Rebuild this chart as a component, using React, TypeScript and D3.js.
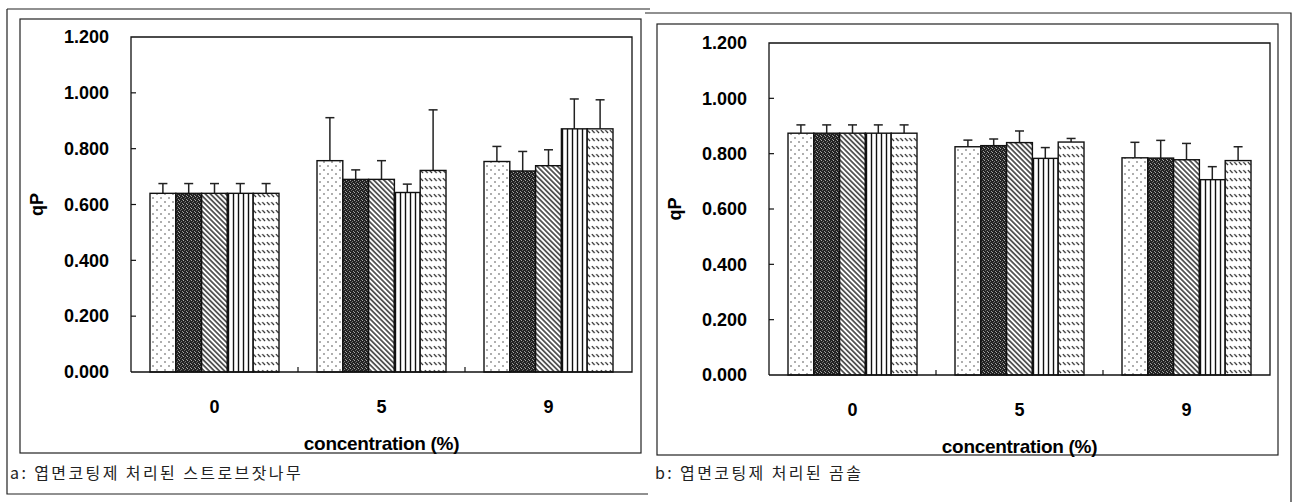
import React, {useEffect, useRef} from 'react';
import * as d3 from 'd3';

// concentration groups and the five treatments shown in each group
const categories = ['0', '5', '9'];
const treatments = ['t1', 't2', 't3', 't4', 't5'];
const yTicks = [0, 0.2, 0.4, 0.6, 0.8, 1.0, 1.2];

// a: strobe pine (스트로브잣나무)
const strobeMeans = [
  [0.64, 0.64, 0.64, 0.64, 0.64],
  [0.757, 0.69, 0.69, 0.643, 0.722],
  [0.754, 0.72, 0.739, 0.871, 0.871],
];
const strobeErrors = [
  [0.035, 0.035, 0.035, 0.035, 0.035],
  [0.154, 0.034, 0.067, 0.03, 0.217],
  [0.054, 0.07, 0.057, 0.107, 0.104],
];

// b: black pine (곰솔)
const blackPineMeans = [
  [0.874, 0.874, 0.874, 0.874, 0.874],
  [0.825, 0.829, 0.84, 0.783, 0.842],
  [0.785, 0.784, 0.778, 0.706, 0.775],
];
const blackPineErrors = [
  [0.03, 0.03, 0.03, 0.03, 0.03],
  [0.024, 0.024, 0.042, 0.039, 0.013],
  [0.056, 0.064, 0.059, 0.047, 0.05],
];

const captionA = 'a: 엽면코팅제 처리된 스트로브잣나무';
const captionB = 'b: 엽면코팅제 처리된 곰솔';

const fills = ['url(#pDots)', 'url(#pDark)', 'url(#pDiag)', 'url(#pVert)', 'url(#pDash)'];
const font = '"Liberation Sans", Arial, sans-serif';

interface PanelConf {
  means: number[][];
  errors: number[][];
  caption: string;
  left: number;
  right: number;
  top: number;
  bottom: number;
  captionX: number;
}

const panels: PanelConf[] = [
  {means: strobeMeans, errors: strobeErrors, caption: captionA, left: 131, right: 632, top: 37, bottom: 372, captionX: 10},
  {means: blackPineMeans, errors: blackPineErrors, caption: captionB, left: 769, right: 1270, top: 43, bottom: 375, captionX: 655},
];

const App = () => {
  const ref = useRef<SVGSVGElement>(null);

  useEffect(() => {
    const svg = d3.select(ref.current);
    svg.selectAll('g.chart').remove();
    const root = svg.append('g').attr('class', 'chart');

    // frames of the scanned figure
    const frame = root.append('g').attr('fill', 'none').attr('stroke', '#222').attr('stroke-width', 1.2);
    frame.append('path').attr('d', 'M7,9 H650 M7,9 V494 H648');
    frame.append('rect').attr('x', 20).attr('y', 19).attr('width', 621).attr('height', 434);
    frame.append('path').attr('d', 'M645,13 H1291 V502');
    frame.append('rect').attr('x', 657).attr('y', 24).attr('width', 621).attr('height', 431);

    panels.forEach(p => {
      const g = root.append('g');
      const y = d3.scaleLinear().domain([0, 1.2]).range([p.bottom, p.top]);
      const x0 = d3.scaleBand().domain(categories).range([p.left, p.right]);
      const x1 = d3
        .scaleBand()
        .domain(treatments)
        .range([19, x0.bandwidth() - 19]);

      // bars
      categories.forEach((c, ci) => {
        const grp = g.append('g').attr('transform', `translate(${x0(c)},0)`);
        treatments.forEach((t, ti) => {
          const v = p.means[ci][ti];
          const e = p.errors[ci][ti];
          const bx = x1(t)!;
          const cx = bx + x1.bandwidth() / 2;
          grp
            .append('line')
            .attr('x1', cx)
            .attr('x2', cx)
            .attr('y1', y(v))
            .attr('y2', y(v + e))
            .attr('stroke', '#222')
            .attr('stroke-width', 1.5);
          grp
            .append('line')
            .attr('x1', cx - 4.5)
            .attr('x2', cx + 4.5)
            .attr('y1', y(v + e))
            .attr('y2', y(v + e))
            .attr('stroke', '#222')
            .attr('stroke-width', 1.5);
          grp
            .append('rect')
            .attr('x', bx)
            .attr('y', y(v))
            .attr('width', x1.bandwidth())
            .attr('height', y(0) - y(v))
            .attr('fill', fills[ti])
            .attr('stroke', '#111')
            .attr('stroke-width', 1.4);
        });
      });

      // plot box
      g.append('path')
        .attr('d', `M${p.left},${p.bottom} V${p.top} H${p.right} V${p.bottom} H${p.left}`)
        .attr('fill', 'none')
        .attr('stroke', '#111')
        .attr('stroke-width', 1.3);

      // y ticks inside
      g.selectAll('line.yt')
        .data(yTicks.slice(1, -1))
        .enter()
        .append('line')
        .attr('x1', p.left)
        .attr('x2', p.left + 5)
        .attr('y1', d => y(d))
        .attr('y2', d => y(d))
        .attr('stroke', '#111')
        .attr('stroke-width', 1.2);
      g.selectAll('text.yl')
        .data(yTicks)
        .enter()
        .append('text')
        .attr('x', p.left - 22)
        .attr('y', d => y(d))
        .attr('dy', '0.35em')
        .attr('text-anchor', 'end')
        .attr('font-family', font)
        .attr('font-weight', 'bold')
        .attr('font-size', 18)
        .text(d => d3.format('.3f')(d));

      // x ticks between groups
      g.selectAll('line.xt')
        .data(categories.slice(1))
        .enter()
        .append('line')
        .attr('x1', d => x0(d)!)
        .attr('x2', d => x0(d)!)
        .attr('y1', p.bottom)
        .attr('y2', p.bottom - 5)
        .attr('stroke', '#111')
        .attr('stroke-width', 1.2);
      g.selectAll('text.xl')
        .data(categories)
        .enter()
        .append('text')
        .attr('x', d => x0(d)! + x0.bandwidth() / 2)
        .attr('y', p.bottom + 35)
        .attr('dy', '0.35em')
        .attr('text-anchor', 'middle')
        .attr('font-family', font)
        .attr('font-weight', 'bold')
        .attr('font-size', 18)
        .text(d => d);

      g.append('text')
        .attr('x', (p.left + p.right) / 2)
        .attr('y', p.bottom + 71)
        .attr('dy', '0.35em')
        .attr('text-anchor', 'middle')
        .attr('font-family', font)
        .attr('font-weight', 'bold')
        .attr('font-size', 19)
        .attr('letter-spacing', -0.3)
        .text('concentration (%)');

      g.append('text')
        .attr('transform', `translate(${p.left - 94},${(p.top + p.bottom) / 2}) rotate(-90)`)
        .attr('dy', '0.35em')
        .attr('text-anchor', 'middle')
        .attr('font-family', font)
        .attr('font-weight', 'bold')
        .attr('font-size', 18)
        .text('qP');

      g.append('text')
        .attr('x', p.captionX)
        .attr('y', 473)
        .attr('dy', '0.35em')
        .attr('font-family', '"Noto Sans CJK KR", sans-serif')
        .attr('font-size', 16)
        .attr('fill', '#222')
        .attr('letter-spacing', 2.4)
        .text(p.caption);
    });
  }, []);

  return (
    <svg ref={ref} width={1297} height={502} style={{display: 'block', position: 'absolute', left: 0, top: 0, background: '#fff'}}>
      <defs>
        <pattern id="pDots" width={8} height={8} patternUnits="userSpaceOnUse">
          <rect width={8} height={8} fill="#fff" />
          <circle cx={2} cy={2} r={0.7} fill="#222" />
          <circle cx={6} cy={6} r={0.7} fill="#222" />
        </pattern>
        <pattern id="pDark" width={4} height={4} patternUnits="userSpaceOnUse">
          <rect width={4} height={4} fill="#222" />
          <rect x={0} y={0} width={1} height={1} fill="#aaa" />
          <rect x={2} y={1} width={1} height={1} fill="#777" />
          <rect x={3} y={3} width={1} height={1} fill="#999" />
          <rect x={1} y={2} width={1} height={1} fill="#666" />
        </pattern>
        <pattern id="pDiag" width={3.6} height={3.6} patternUnits="userSpaceOnUse" patternTransform="rotate(-45)">
          <rect width={3.6} height={3.6} fill="#fff" />
          <line x1={1.8} y1={0} x2={1.8} y2={3.6} stroke="#111" strokeWidth={1.3} />
        </pattern>
        <pattern id="pVert" width={5} height={5} patternUnits="userSpaceOnUse">
          <rect width={5} height={5} fill="#fff" />
          <line x1={2.5} y1={0} x2={2.5} y2={5} stroke="#111" strokeWidth={1.4} />
        </pattern>
        <pattern id="pDash" width={4.5} height={8} patternUnits="userSpaceOnUse">
          <rect width={4.5} height={8} fill="#fff" />
          <line x1={0.8} y1={2.2} x2={3.6} y2={5} stroke="#222" strokeWidth={1.1} />
        </pattern>
      </defs>
    </svg>
  );
};

export default App;
